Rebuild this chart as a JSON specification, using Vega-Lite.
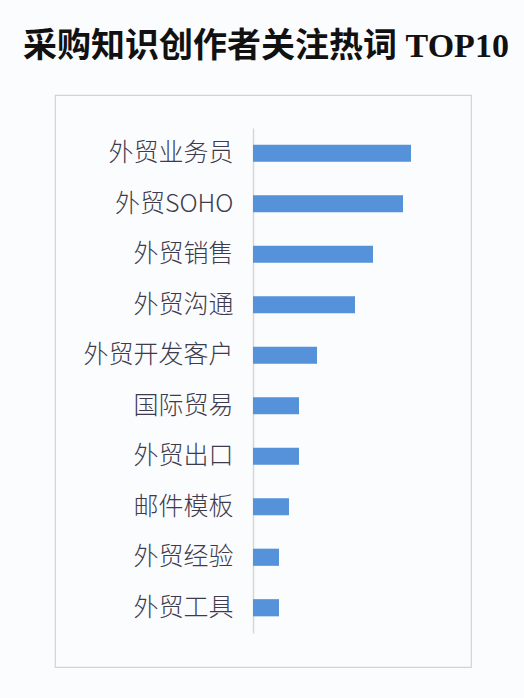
{
  "$schema": "https://vega.github.io/schema/vega-lite/v6.json",
  "autosize": "none",
  "width": 416,
  "height": 572,
  "padding": {"left": 55, "top": 95, "right": 53, "bottom": 31},
  "background": "#fbfcfe",
  "title": {
    "text": "采购知识创作者关注热词 TOP10",
    "font": "Liberation Serif, Noto Sans CJK SC",
    "fontSize": 34,
    "fontWeight": "bold",
    "color": "#111111",
    "anchor": "middle",
    "dx": 3,
    "offset": 31
  },
  "config": {
    "view": {"stroke": "#d3d3d3", "strokeWidth": 1.2}
  },
  "data": {
    "values": [
      {"word": "外贸业务员", "value": 158},
      {"word": "外贸SOHO", "value": 150},
      {"word": "外贸销售", "value": 120},
      {"word": "外贸沟通", "value": 102},
      {"word": "外贸开发客户", "value": 64},
      {"word": "国际贸易", "value": 46},
      {"word": "外贸出口", "value": 46},
      {"word": "邮件模板", "value": 36},
      {"word": "外贸经验", "value": 26},
      {"word": "外贸工具", "value": 26}
    ]
  },
  "mark": {"type": "bar", "color": "#5592d9"},
  "encoding": {
    "y": {
      "field": "word",
      "type": "nominal",
      "sort": null,
      "title": null,
      "scale": {"range": [33, 538], "paddingInner": 0.66, "paddingOuter": 0.33},
      "axis": {
        "offset": -198,
        "ticks": false,
        "domainColor": "#d6d6d6",
        "domainWidth": 1.5,
        "labelPadding": 20,
        "labelFont": "Noto Sans CJK SC",
        "labelFontSize": 25,
        "labelFontWeight": 300,
        "labelColor": "#3e3b4c"
      }
    },
    "x": {
      "field": "value",
      "type": "quantitative",
      "scale": {"domain": [0, 200], "range": [198, 398]},
      "axis": null
    }
  }
}
